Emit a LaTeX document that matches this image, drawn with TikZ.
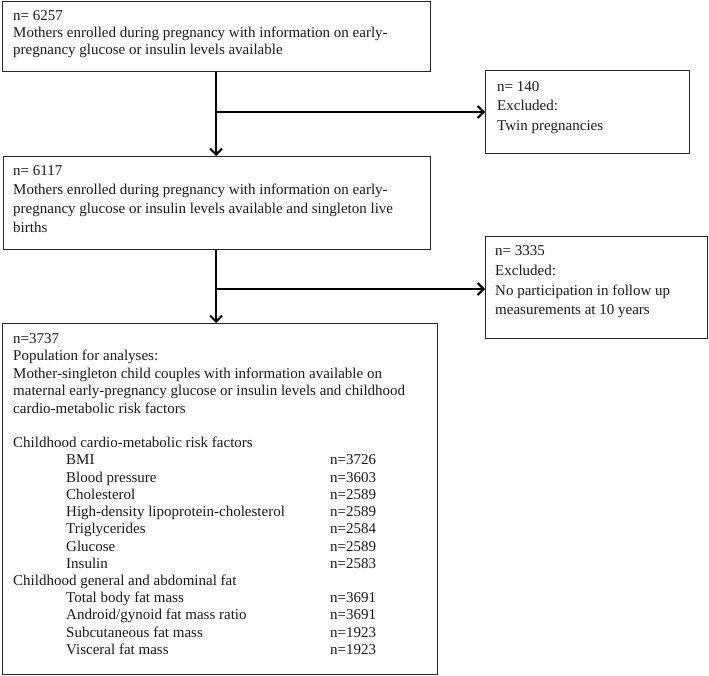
\documentclass[tikz,border=0pt]{standalone}
\usepackage{fontspec}
\setmainfont{Liberation Serif}
\usetikzlibrary{arrows.meta}
\begin{document}
\begin{tikzpicture}[x=1pt,y=-1pt,
  box/.style={draw=black!85,line width=1.1pt,fill=none},
  txt/.style={anchor=base west,inner sep=0pt,font=\fontsize{15}{18}\selectfont,text=black!90},
  conn/.style={draw=black,line width=2pt},
  arr/.style={conn,-{Straight Barb[length=6pt,width=12pt,line width=2pt]}}]
\useasboundingbox (0,0) rectangle (709,676);
% boxes
\node[box,minimum width=428pt,minimum height=70pt,anchor=north west,inner sep=0pt] (b1) at (2,1) {};
\node[box,minimum width=204pt,minimum height=83pt,anchor=north west,inner sep=0pt] (b2) at (485,70) {};
\node[box,minimum width=427pt,minimum height=93pt,anchor=north west,inner sep=0pt] (b3) at (3,156) {};
\node[box,minimum width=222pt,minimum height=102pt,anchor=north west,inner sep=0pt] (b4) at (485,236) {};
\node[box,minimum width=435pt,minimum height=351pt,anchor=north west,inner sep=0pt] (b5) at (2,323) {};
% connectors
\coordinate (j1) at (216,112);
\coordinate (j2) at (216,289);
\draw[arr] (b1.south -| j1) -- (b3.north -| j1);
\draw[arr] (j1) -- (j1 -| b2.west);
\draw[arr] (b3.south -| j2) -- (b5.north -| j2);
\draw[arr] (j2) -- (j2 -| b4.west);
% box 1 text
\node[txt] (t11) at (13,21) {n= 6257};
\node[txt] (t12) at (13,38) {Mothers enrolled during pregnancy with information on early-};
\node[txt] (t13) at (13,55) {pregnancy glucose or insulin levels available};
% box 2 text
\node[txt] (t21) at (497,92) {n= 140};
\node[txt] (t22) at (497,111) {Excluded:};
\node[txt] (t23) at (497,131) {Twin pregnancies};
% box 3 text
\node[txt] (t31) at (13,176) {n= 6117};
\node[txt] (t32) at (13,195) {Mothers enrolled during pregnancy with information on early-};
\node[txt] (t33) at (13,214) {pregnancy glucose or insulin levels available and singleton live};
\node[txt] (t34) at (13,233) {births};
% box 4 text
\node[txt] (t41) at (495,256) {n= 3335};
\node[txt] (t42) at (495,276) {Excluded:};
\node[txt] (t43) at (495,295) {No participation in follow up};
\node[txt] (t44) at (495,314) {measurements at 10 years};
% box 5 text
\node[txt] (t51) at (13,343) {n=3737};
\node[txt] (t52) at (13,360) {Population for analyses:};
\node[txt] (t53) at (13,378) {Mother-singleton child couples with information available on};
\node[txt] (t54) at (13,395) {maternal early-pregnancy glucose or insulin levels and childhood};
\node[txt] (t55) at (13,413) {cardio-metabolic risk factors};
\node[txt] (t56) at (13,447) {Childhood cardio-metabolic risk factors};
\node[txt] (r1) at (66,464) {BMI};            \node[txt] (n1) at (330,464) {n=3726};
\node[txt] (r2) at (66,482) {Blood pressure}; \node[txt] (n2) at (330,482) {n=3603};
\node[txt] (r3) at (66,499) {Cholesterol};    \node[txt] (n3) at (330,499) {n=2589};
\node[txt] (r4) at (66,516) {High-density lipoprotein-cholesterol}; \node[txt] (n4) at (330,516) {n=2589};
\node[txt] (r5) at (66,533) {Triglycerides};  \node[txt] (n5) at (330,533) {n=2584};
\node[txt] (r6) at (66,551) {Glucose};        \node[txt] (n6) at (330,551) {n=2589};
\node[txt] (r7) at (66,568) {Insulin};        \node[txt] (n7) at (330,568) {n=2583};
\node[txt] (t57) at (13,585) {Childhood general and abdominal fat};
\node[txt] (r8) at (66,602) {Total body fat mass};            \node[txt] (n8) at (330,602) {n=3691};
\node[txt] (r9) at (66,619) {Android/gynoid fat mass ratio};  \node[txt] (n9) at (330,619) {n=3691};
\node[txt] (r10) at (66,637) {Subcutaneous fat mass};         \node[txt] (n10) at (330,637) {n=1923};
\node[txt] (r11) at (66,654) {Visceral fat mass};             \node[txt] (n11) at (330,654) {n=1923};
\end{tikzpicture}
\end{document}
